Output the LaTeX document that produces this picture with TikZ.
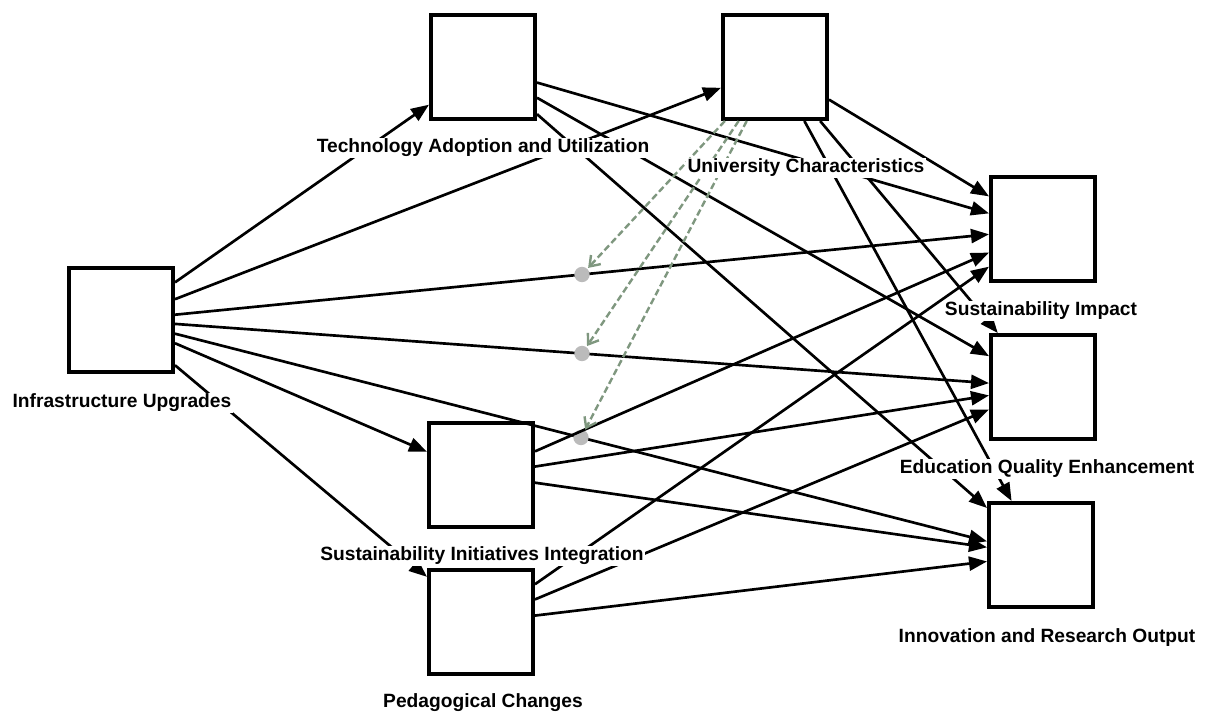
\documentclass[tikz,border=0pt]{standalone}
\usepackage{fontspec}
\setmainfont{Liberation Sans}
\usepackage{tikz}
\usetikzlibrary{arrows.meta}
\definecolor{modgreen}{HTML}{7F977F}
\definecolor{dotgray}{HTML}{BBBBBB}

\begin{document}
\begin{tikzpicture}[
  x=0.75pt,y=-0.75pt,
  var/.style={draw=black,line width=3pt,fill=white,minimum size=78pt,inner sep=0pt},
  lab/.style={fill=white,inner sep=1pt,font=\fontsize{14.4}{16}\selectfont\bfseries},
  arr/.style={-{Triangle[length=13.5pt,width=10.5pt]},line width=2pt},
  modpt/.style={circle,fill=dotgray,minimum size=11.5pt,inner sep=0pt},
  modarr/.style={-{Straight Barb[length=7pt,width=10pt]},draw=modgreen,line width=1.8pt,dash pattern=on 5pt off 2.5pt}
]
\useasboundingbox (0,0) rectangle (1208,715);
\node[var] (IU) at (121,320) {};
\node[var] (TA) at (483,67) {};
\node[var] (UC) at (775,67) {};
\node[var] (SII) at (481,475) {};
\node[var] (PC) at (481,622) {};
\node[var] (SI) at (1043,229) {};
\node[var] (EQ) at (1043,387) {};
\node[var] (IR) at (1041,555) {};
\foreach \b in {TA,UC,SII,PC} \draw[arr] (IU)--(\b);
\draw[arr] (IU) -- node[modpt] (m1) {} (SI);
\draw[arr] (IU) -- node[modpt] (m2) {} (EQ);
\draw[arr] (IU) -- node[modpt] (m3) {} (IR);
\foreach \a in {TA,UC,SII,PC} \foreach \b in {SI,EQ,IR} \draw[arr] (\a)--(\b);
\foreach \m in {m1,m2,m3} \draw[modarr] (UC)--(\m);
\node[lab] (IUl) at (122,403) {Infrastructure Upgrades};
\node[lab] (TAl) at (483,148) {Technology Adoption and Utilization};
\node[lab] (UCl) at (806,168) {University Characteristics};
\node[lab] (SIl) at (1041,311) {Sustainability Impact};
\node[lab] (EQl) at (1047,469) {Education Quality Enhancement};
\node[lab] (IRl) at (1047,638) {Innovation and Research Output};
\node[lab] (SIIl) at (482,556) {Sustainability Initiatives Integration};
\node[lab] (PCl) at (483,703) {Pedagogical Changes};
\end{tikzpicture}
\end{document}
